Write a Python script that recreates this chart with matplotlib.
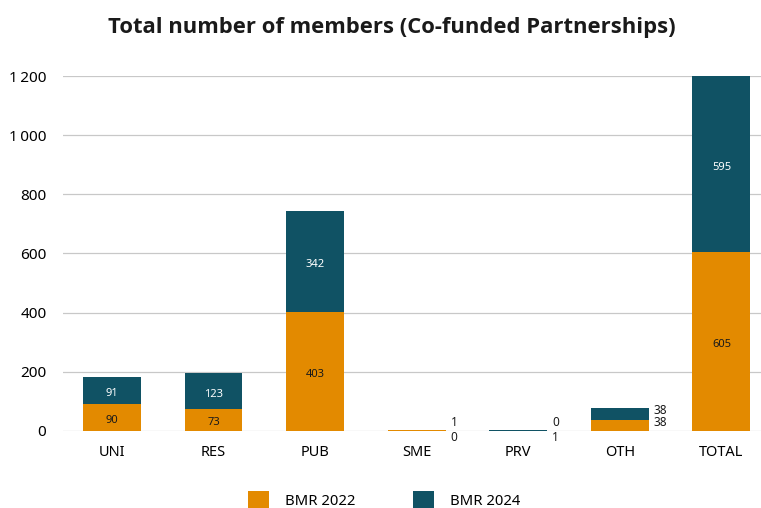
import matplotlib
matplotlib.use("Agg")
import matplotlib.pyplot as plt
import numpy as np

plt.rcParams['font.family'] = ['Noto Sans', 'DejaVu Sans']

categories = ["UNI", "RES", "PUB", "SME", "PRV", "OTH", "TOTAL"]
bmr2022 = [90, 73, 403, 1, 0, 38, 605]
bmr2024 = [91, 123, 342, 0, 1, 38, 595]
yticks = [0, 200, 400, 600, 800, 1000, 1200]
yticklabels = ["0", "200", "400", "600", "800", "1\u2009000", "1\u2009200"]

c22 = "#E38A00"
c24 = "#105264"

fig = plt.figure(figsize=(7.61, 5.08), dpi=100)
ax = fig.add_axes([0.083, 0.152, 0.917, 0.698])
x = np.arange(len(categories))
w = 0.57
ax.bar(x, bmr2022, width=w, color=c22, label="BMR 2022", zorder=3)
ax.bar(x, bmr2024, width=w, bottom=bmr2022, color=c24, label="BMR 2024", zorder=3)

ax.set_xlim(-0.48, 6.39)
ax.set_ylim(0, 1200)
ax.set_yticks(yticks)
ax.set_yticklabels(yticklabels, fontsize=11)
ax.set_xticks(x)
ax.set_xticklabels(categories, fontsize=10.5)
ax.tick_params(axis='y', length=0, pad=12)
ax.tick_params(axis='x', length=0, pad=10)
ax.grid(axis='y', color='#c8c8c8', linewidth=0.9, zorder=0)
for s in ax.spines.values():
    s.set_visible(False)

for i in range(len(categories)):
    a, b = bmr2022[i], bmr2024[i]
    if a + b >= 150:
        ax.annotate(str(a), (x[i], a / 2), xytext=(0, -3), textcoords='offset pixels',
                    ha='center', va='center', fontsize=8, color='#1a1a1a', zorder=4)
        ax.annotate(str(b), (x[i], a + b / 2), xytext=(0, -3), textcoords='offset pixels',
                    ha='center', va='center', fontsize=8, color='white', zorder=4)
    else:
        xr = x[i] + w / 2 + 0.05
        if a + b > 20:
            ax.text(xr, a + b - 8, str(b), ha='left', va='center', fontsize=8.5, color='#1a1a1a')
            ax.text(xr, a + b - 49, str(a), ha='left', va='center', fontsize=8.5, color='#1a1a1a')
        else:
            ax.text(xr, 28, str(a), ha='left', va='center', fontsize=8.5, color='#1a1a1a')
            ax.text(xr, -24, str(b), ha='left', va='center', fontsize=8.5, color='#1a1a1a')

fig.text(0.515, 0.945, "Total number of members (Co-funded Partnerships)", ha='center', va='center',
         fontsize=15.8, fontweight='bold', family=['Open Sans', 'DejaVu Sans'], color='#1a1a1a')

leg = fig.legend(loc='center', bbox_to_anchor=(0.505, 0.015), ncol=2, frameon=False,
                 fontsize=10.7, handlelength=1.4, handleheight=1.5, columnspacing=3.9, handletextpad=1.1)

fig.savefig("out.png", dpi=100)
